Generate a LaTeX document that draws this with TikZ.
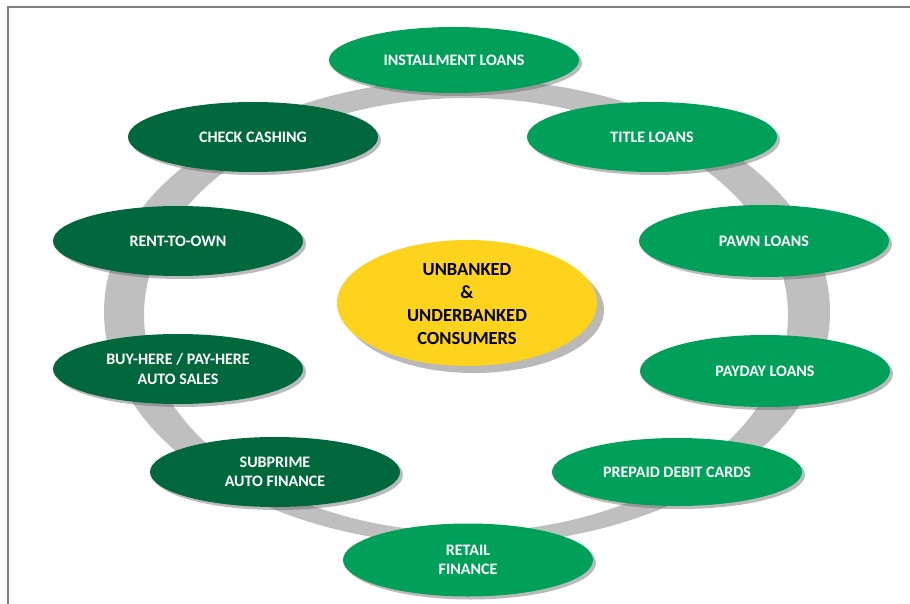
\documentclass[tikz,border=0pt]{standalone}
\usepackage{fontspec}
\setmainfont{Carlito}
\usetikzlibrary{shapes.geometric,shadows}
\definecolor{lgreen}{RGB}{0,160,90}
\definecolor{dgreen}{RGB}{0,104,60}
\definecolor{cyellow}{RGB}{253,211,30}
\definecolor{ringgray}{RGB}{191,191,191}
\definecolor{framegray}{RGB}{128,128,128}
\tikzset{
  oval/.style={ellipse, minimum width=250pt, minimum height=70pt, inner sep=0pt,
    align=center, text=white, font=\fontsize{16}{19.5}\selectfont\bfseries,
    drop shadow={shadow xshift=3pt, shadow yshift=-3pt, opacity=0.45, fill=black!60}},
  lightoval/.style={oval, fill=lgreen},
  darkoval/.style={oval, fill=dgreen},
  hub/.style={ellipse, fill=cyellow, minimum width=260pt, minimum height=126pt, inner sep=0pt,
    align=center, text=black, font=\fontsize{18.5}{23}\selectfont\bfseries,
    drop shadow={shadow xshift=7pt, shadow yshift=-7pt, opacity=0.55, fill=black!50}}
}
\begin{document}
\begin{tikzpicture}[x=1pt,y=-1pt]
\useasboundingbox (0,0) rectangle (910,604);
\fill[white] (0,0) rectangle (910,604);
% frame
\draw[framegray, line width=1.6pt] (8,604) -- (8,7) -- (910,7);
% ring
\fill[ringgray, even odd rule] (467,312) ellipse (363pt and 233pt) (466,315) ellipse (322pt and 217pt);
% nodes
\node[hub] (hub) at (467,303) {};
\node[align=center, text=black, font=\fontsize{18.5}{23}\selectfont\bfseries] (hubtext) at (467,304) {UNBANKED\\\&\\UNDERBANKED\\CONSUMERS};
\node[lightoval, minimum height=66pt] (inst) at (454,60) {INSTALLMENT LOANS};
\node[lightoval] (title) at (652,137) {TITLE LOANS};
\node[lightoval, minimum height=72pt] (pawn) at (764,241) {PAWN LOANS};
\node[lightoval, minimum height=72pt] (payday) at (765,371) {PAYDAY LOANS};
\node[lightoval, minimum height=68pt] (prepaid) at (677,472) {PREPAID DEBIT CARDS};
\node[lightoval, minimum height=73pt] (retail) at (468,560) {RETAIL\\FINANCE};
\node[darkoval] (subprime) at (275,472) {SUBPRIME\\AUTO FINANCE};
\node[darkoval] (buyhere) at (178,369) {BUY-HERE / PAY-HERE\\AUTO SALES};
\node[darkoval] (rent) at (178,241) {RENT-TO-OWN};
\node[darkoval] (check) at (253,137) {CHECK CASHING};
\end{tikzpicture}
\end{document}
